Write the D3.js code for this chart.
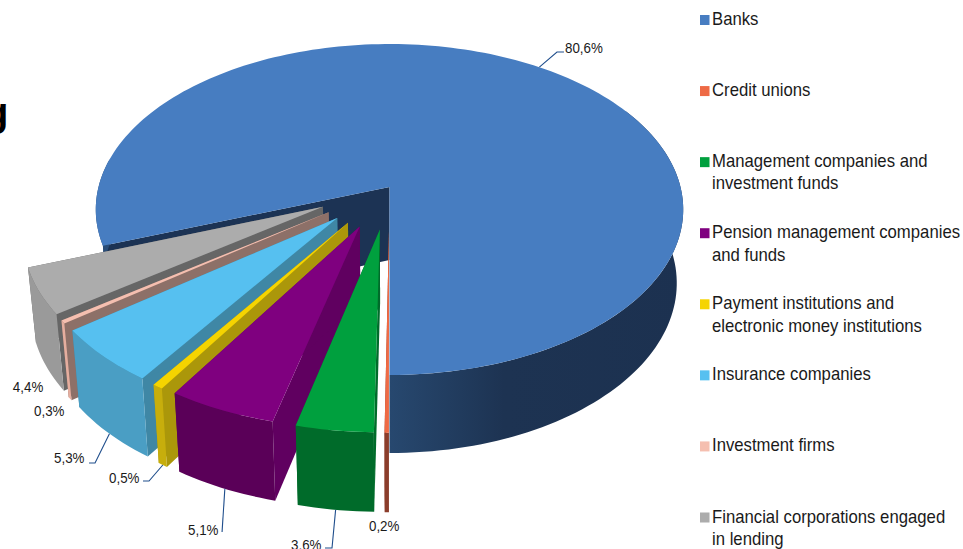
<!DOCTYPE html>
<html><head><meta charset="utf-8">
<script src="https://cdn.jsdelivr.net/npm/d3@7"></script>
<style>html,body{margin:0;padding:0;background:#fff;overflow:hidden}svg{display:block}text{font-family:"Liberation Sans",Arial,sans-serif}</style>
</head><body><svg id="c" width="963" height="549"></svg>
<script>
const categories=["Banks","Credit unions","Management companies and|investment funds","Pension management companies|and funds","Payment institutions and|electronic money institutions","Insurance companies","Investment firms","Financial corporations engaged|in lending"];
const values=[80.6,0.2,3.6,5.1,0.5,5.3,0.3,4.4];
const labels=["80,6%","0,2%","3,6%","5,1%","0,5%","5,3%","0,3%","4,4%"];
const topColors=["#477dc1","#ee6a45","#00a03e","#7f007f","#f5d400","#56c0f0","#f5bfb0","#acacac"];
const outerColors=["url(#bankSide)","#8b3d2b","#006b2a","#5a0058","#c7ae0c","#4a9ec4","#e5ae9f","#9a9a9a"];
const innerColors=["#1c3354","#8b3d2b","#006b2a","#600060","#ab970a","#3f87a5","#8d7068","#666666"];
const exploded=[0,.255,.255,.255,.255,.255,.255,.255];
const labelOffsets=[[25.6,-19.2],[-17.8,13],[-44.6,35.2],[-36.8,41.3],[-53.8,13],[-55.4,24.3],[-36,12],[-34,19]];
const leaderOffsets=[[[17.6,-15.2],[24.6,-15.2]],null,[[-3.6,38.2],[-10.6,38.2]],[[-2.8,43.3]],[[-13.8,16],[-19.8,16]],[[-14.4,29.3],[-20.4,29.3]],null,null];
const W=963,H=549,cx=389.5,cy=187,R=291,Ry=162.4,k=.136,kDepth=.065,depth=73,conv=.022;
const svg=d3.select("#c");
const defs=svg.append("defs");
const grad=defs.append("linearGradient").attr("id","bankSide").attr("gradientUnits","userSpaceOnUse").attr("x1",390).attr("x2",690).attr("y1",0).attr("y2",0);
grad.append("stop").attr("offset",0).attr("stop-color","#27486f");
grad.append("stop").attr("offset",.38).attr("stop-color","#1d3352");
grad.append("stop").attr("offset",1).attr("stop-color","#1c3150");
const xS=d3.scaleLinear().domain([-1,1]).range([cx-R,cx+R]);
const yS=d3.scaleLinear().domain([-1,1]).range([cy-Ry,cy+Ry]);
const rad=d=>d*Math.PI/180;
const pie=d3.pie().sort(null).value(d=>d).startAngle(rad(-110.16)).endAngle(rad(249.84));
const arcs=pie(values);
function proj(a,r,off,down){
  const X=r*Math.sin(a)+off[0],Y=-r*Math.cos(a)+off[1],s=1/(1-k*Y);
  let x=cx+(xS(X)-cx)*s,y=cy+(yS(Y)-cy)*s;
  if(down){y+=depth/(1-kDepth*Y);x=cx+(x-cx)*(1-conv);}
  return [x,y];
}
const line=d3.line();
const samples=(a,b)=>d3.range(0,1.0001,1/Math.max(2,Math.ceil(Math.abs(b-a)/rad(1.5)))).map(t=>a+(b-a)*t);
arcs.forEach((d,i)=>{const m=(d.startAngle+d.endAngle)/2;d.off=[exploded[i]*Math.sin(m),-exploded[i]*Math.cos(m)];d.mid=m;});
function wall(g,a,b,o,fill){
  const v=samples(a,b);
  g.append("path").attr("fill",fill).attr("d",line(v.map(t=>proj(t,1,o,false)).concat(v.map(t=>proj(t,1,o,true)).reverse()))+"Z");
}
function drawSlice(d,i){
  const g=svg.append("g").attr("class","slice");
  const a0=d.startAngle,a1=d.endAngle,o=d.off;
  const ap=proj(0,0,o,false),apB=proj(0,0,o,true);
  [a0,a1].forEach(a=>g.append("path").attr("fill",innerColors[i]).attr("d",line([ap,proj(a,1,o,false),proj(a,1,o,true),apB])+"Z"));
  if(i==0){wall(g,rad(60),a1,o,outerColors[0]);wall(g,a0,rad(-80),o,"#2a4d78");}
  else wall(g,a0,a1,o,outerColors[i]);
  const rim=samples(a0,a1).map(a=>proj(a,1,o,false));
  g.append("path").attr("fill",topColors[i]).attr("d",line([ap].concat(rim))+"Z");
}
drawSlice(arcs[0],0);
[7,6,5,4,3,2,1].forEach(i=>drawSlice(arcs[i],i));
arcs.forEach((d,i)=>{
  const p=proj(d.mid,1,d.off,i!=0);
  const lx=p[0]+labelOffsets[i][0],ly=p[1]+labelOffsets[i][1];
  if(leaderOffsets[i]){
    const pts=[p].concat(leaderOffsets[i].map(q=>[p[0]+q[0],p[1]+q[1]]));
    svg.append("path").attr("fill","none").attr("stroke","#1f4e8c").attr("stroke-width",1.1).attr("d",line(pts));
  }
  svg.append("text").attr("transform",`translate(${lx},${ly+5.3}) scale(.89,1)`).attr("font-size",15).attr("fill","#1a1a1a").text(labels[i]);
});
const rowY=d3.scalePoint().domain(d3.range(8)).range([25,522.5]);
categories.forEach((c,i)=>{
  const y=rowY(i);
  svg.append("rect").attr("x",700).attr("y",y-10).attr("width",9.5).attr("height",10).attr("fill",topColors[i]);
  c.split("|").forEach((t,j)=>svg.append("text").attr("transform",`translate(712,${y+j*22.3}) scale(.955,1)`).attr("font-size",17.5).attr("fill","#1a1a1a").text(t));
});
svg.append("text").attr("x",-16).attr("y",126).attr("font-size",40).attr("font-weight","bold").attr("fill","#000").text("g");
</script></body></html>
